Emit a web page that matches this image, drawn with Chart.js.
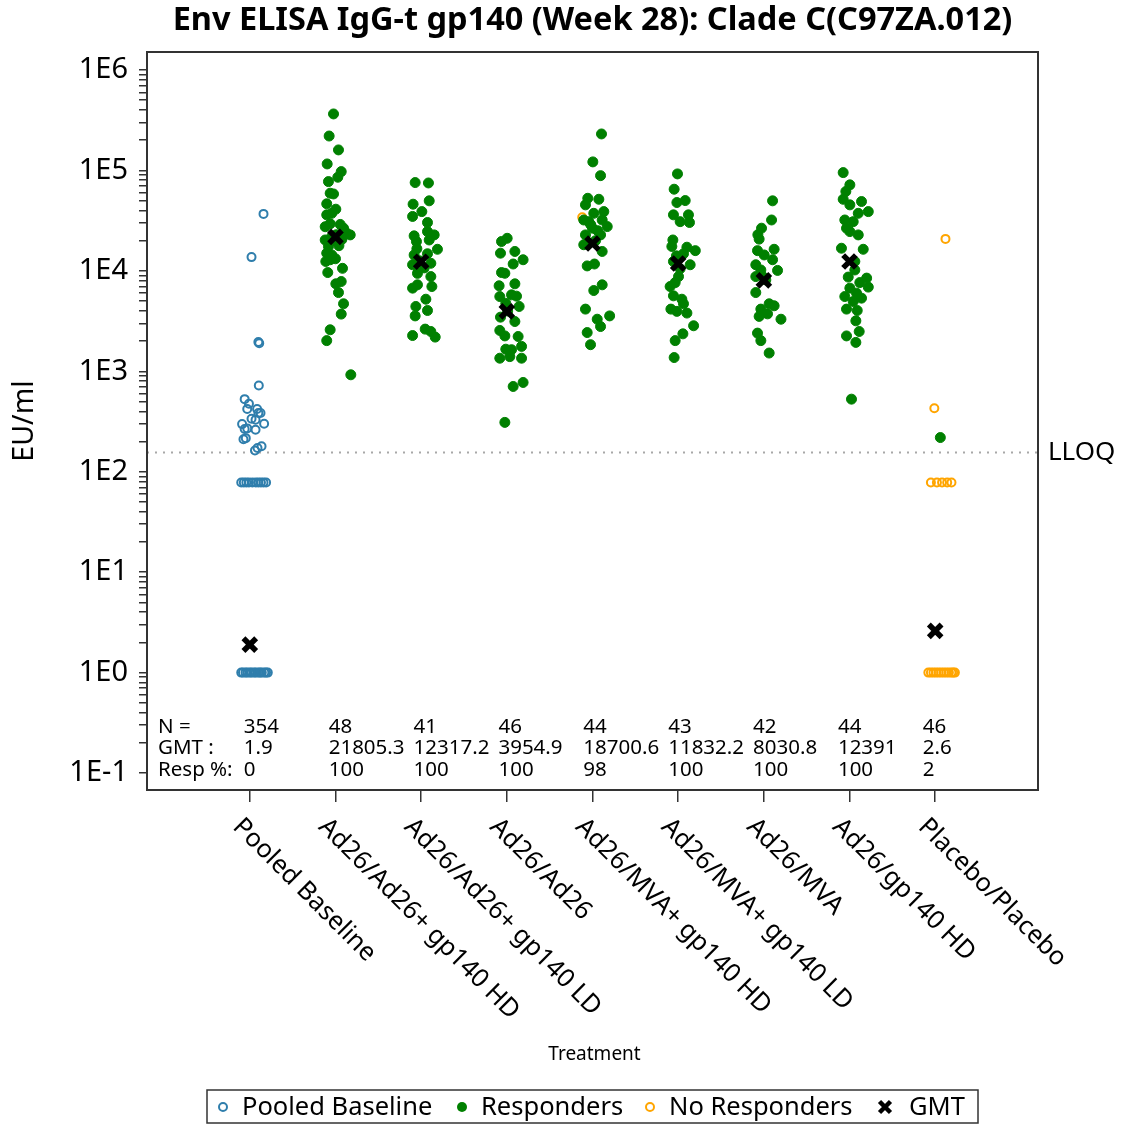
<!DOCTYPE html>
<html>
<head>
<meta charset="utf-8">
<script src="https://cdn.jsdelivr.net/npm/chart.js@4.4.1/dist/chart.umd.min.js"></script>
<style>
  html, body { margin: 0; padding: 0; background: #ffffff; }
  canvas { display: block; }
</style>
</head>
<body>
<canvas id="chart" width="1125" height="1125"></canvas>
<script>
// Treatment groups, in axis order
const groups = [
  'Pooled Baseline', 'Ad26/Ad26+ gp140 HD', 'Ad26/Ad26+ gp140 LD', 'Ad26/Ad26',
  'Ad26/MVA+ gp140 HD', 'Ad26/MVA+ gp140 LD', 'Ad26/MVA', 'Ad26/gp140 HD', 'Placebo/Placebo'
];
const nSubjects   = [354, 48, 41, 46, 44, 43, 42, 44, 46];
const gmtValues   = [1.9, 21805.3, 12317.2, 3954.9, 18700.6, 11832.2, 8030.8, 12391, 2.6];
const respPercent = [0, 100, 100, 100, 98, 100, 100, 100, 2];
const lloqValue   = 158;
const yTickExponents = [-1, 0, 1, 2, 3, 4, 5, 6];
const legendLabels = ['Pooled Baseline', 'Responders', 'No Responders', 'GMT'];

// Pooled baseline (EU/ml) and horizontal jitter (category units)
const baselineValues = [36900, 13700, 1960, 1900, 723, 528, 475, 421, 421, 384, 384, 298, 337, 329, 301, 266, 270, 262, 216, 211, 163, 172, 179,
  78, 78, 78, 78, 78, 78, 78, 78, 78, 78,
  1, 1, 1, 1, 1, 1, 1, 1, 1, 1, 1, 1, 1, 1];
const baselineJitter = [0.16, 0.02, 0.10, 0.11, 0.105, -0.06, -0.01, -0.03, 0.085, 0.10, 0.125, -0.09, 0.02, 0.067, 0.167, -0.06, -0.03, 0.067, -0.047, -0.074, 0.06, 0.09, 0.137,
  -0.10, -0.07, -0.04, -0.01, 0.03, 0.07, 0.10, 0.13, 0.16, 0.19,
  -0.10, -0.08, -0.05, -0.03, 0, 0.02, 0.05, 0.07, 0.10, 0.12, 0.14, 0.17, 0.19, 0.21];

// Responders per group (EU/ml)
const responderValues = [
  [],
  [365000, 220000, 160000, 116000, 97300, 85500, 77400, 59300, 58300, 46500, 41100, 36100, 37400, 29400, 29000, 26600, 22800, 23700, 20300, 22000, 17500, 20500, 15000, 14400, 12400, 12900, 9620, 10600, 7830, 7430, 6080, 4700, 3710, 2590, 2020, 923, 22900, 21900, 19900, 17800, 27500, 13200],
  [75700, 75000, 49800, 46100, 38900, 34800, 30300, 24600, 22800, 22300, 19600, 20300, 16400, 14400, 14800, 11500, 11900, 9440, 8770, 7260, 6730, 6980, 5220, 4420, 4030, 3560, 2630, 2490, 2190, 2270, 12600, 10700, 16600],
  [21100, 19600, 15000, 15600, 12900, 11700, 9620, 9460, 7430, 7100, 5550, 5770, 5600, 4760, 4420, 3460, 3130, 2550, 2250, 2220, 1770, 1660, 1640, 1350, 1350, 1400, 706, 774, 310, 3980],
  [230700, 121600, 88700, 52800, 51600, 45400, 38900, 37400, 32100, 30900, 32100, 27600, 26600, 22800, 22800, 18200, 15600, 11200, 11700, 7260, 6370, 4160, 3560, 3300, 2790, 2430, 1840, 19950, 28800, 25100],
  [92300, 65000, 47900, 50100, 36100, 36100, 30900, 30300, 20300, 17500, 17200, 15900, 14800, 12400, 11500, 8770, 7640, 6980, 5640, 5220, 4700, 4160, 3950, 3800, 2840, 2360, 2020, 1370, 10500, 14100],
  [49800, 32100, 26600, 20700, 16400, 15900, 14400, 12900, 11500, 10100, 10200, 8770, 8130, 6080, 4700, 4490, 4160, 3520, 3730, 3300, 2400, 2020, 1520, 22900, 8900],
  [95100, 71800, 61700, 51600, 49000, 45400, 38900, 37400, 32100, 30900, 26600, 24600, 22800, 16800, 16400, 12400, 10200, 8670, 8470, 7640, 6890, 6730, 6000, 5550, 5350, 4950, 4160, 4030, 3180, 2490, 2250, 1940, 528],
  [219]
];
const responderJitter = [
  [],
  [-0.023, -0.074, 0.035, -0.097, 0.067, 0.027, -0.082, -0.062, -0.023, -0.102, 0.004, -0.102, -0.043, -0.062, 0.055, 0.094, 0.172, 0.132, -0.12, -0.043, -0.082, 0.074, -0.102, -0.043, -0.113, -0.062, -0.09, 0.082, 0.067, 0.004, 0.035, 0.094, 0.067, -0.062, -0.102, 0.179, 0.01, 0.08, -0.04, 0.04, -0.12, 0.0],
  [-0.07, 0.085, 0.094, -0.094, 0.008, -0.10, 0.074, 0.074, 0.152, -0.082, -0.055, 0.094, 0.19, -0.082, 0.074, -0.10, 0.113, -0.043, 0.113, -0.043, -0.10, 0.125, 0.055, -0.062, 0.074, -0.07, 0.047, 0.113, 0.164, -0.10, -0.02, 0.035, -0.05],
  [0.004, -0.062, -0.074, 0.094, 0.19, 0.074, -0.062, -0.023, 0.094, -0.09, -0.082, 0.055, 0.113, -0.012, 0.144, -0.074, 0.094, -0.082, -0.023, 0.132, 0.172, -0.012, 0.055, -0.082, 0.172, 0.035, 0.074, 0.19, -0.023, 0.01],
  [0.105, 0.004, 0.094, -0.055, 0.074, -0.082, 0.132, 0.015, -0.102, -0.043, 0.113, 0.172, 0, -0.082, 0.094, -0.102, 0.113, -0.062, 0.023, 0.113, 0.015, -0.082, 0.20, 0.055, 0.094, -0.062, -0.023, 0.035, -0.02, 0.06],
  [-0.008, -0.047, -0.015, 0.082, -0.055, 0.12, 0.023, 0.132, -0.062, -0.074, 0.102, 0.2, 0.062, -0.055, 0.14, 0.004, -0.035, -0.094, -0.055, 0.043, 0.062, -0.085, -0.015, 0.102, 0.18, 0.055, -0.035, -0.047, 0.023, -0.02],
  [0.102, 0.09, -0.027, -0.055, 0.12, -0.074, 0.004, 0.102, -0.094, 0.16, -0.035, -0.094, 0.023, -0.094, 0.062, 0.12, -0.035, -0.055, 0.043, 0.2, -0.074, -0.035, 0.062, -0.07, -0.02],
  [-0.074, 0.004, -0.043, -0.074, 0.14, 0.004, 0.219, 0.102, -0.055, 0.043, -0.035, 0.004, 0.102, -0.094, 0.16, 0.062, 0.062, -0.015, 0.2, 0.12, 0.219, 0.004, 0.082, -0.055, 0.14, 0.043, -0.035, 0.09, 0.074, 0.113, -0.035, 0.074, 0.023],
  [0.06]
];

// Non-responders per group (EU/ml)
const nonResponderValues = [
  [], [], [], [], [34200], [], [], [],
  [20800, 428, 78, 78, 78, 78, 78, 1, 1, 1, 1, 1, 1, 1, 1, 1, 1, 1, 1]
];
const nonResponderJitter = [
  [], [], [], [], [-0.12], [], [], [],
  [0.12, -0.01, -0.05, 0.02, 0.08, 0.14, 0.19, -0.08, -0.05, -0.02, 0.01, 0.04, 0.07, 0.10, 0.13, 0.16, 0.19, 0.21, 0.23]
];

const BLUE = '#2f7eac', GREEN = '#008000', ORANGE = '#ffa500';
const FONT = '"Noto Sans", "Open Sans", sans-serif';

function toPoints(values, jitter, groupIndex) {
  return values.map((v, k) => ({ x: groupIndex + jitter[k], y: v }));
}
const baselinePoints = toPoints(baselineValues, baselineJitter, 0);
const responderPoints = responderValues.flatMap((vals, i) => toPoints(vals, responderJitter[i], i));
const nonResponderPoints = nonResponderValues.flatMap((vals, i) => toPoints(vals, nonResponderJitter[i], i));
const gmtPoints = gmtValues.map((v, i) => ({ x: i, y: v }));

function isDecade(v) {
  const e = Math.log10(v);
  return Math.abs(e - Math.round(e)) < 1e-9;
}

// Frame, reference line, summary table, rotated category labels, titles and legend
const decorations = {
  id: 'decorations',
  beforeDatasetsDraw(chart) {
    const { ctx, chartArea: a, scales: { y } } = chart;
    const yl = Math.round(y.getPixelForValue(lloqValue)) + 0.5;
    ctx.save();
    ctx.strokeStyle = '#a8a8a8';
    ctx.lineWidth = 2;
    ctx.setLineDash([2, 6]);
    ctx.beginPath();
    ctx.moveTo(a.left, yl);
    ctx.lineTo(a.right, yl);
    ctx.stroke();
    ctx.restore();
  },
  afterDraw(chart) {
    const { ctx, chartArea: a, scales: { x, y } } = chart;
    ctx.save();

    // plot frame
    ctx.strokeStyle = '#333';
    ctx.lineWidth = 2;
    ctx.strokeRect(a.left, a.top, a.right - a.left, a.bottom - a.top);

    // LLOQ label
    ctx.fillStyle = '#000';
    ctx.font = '26px ' + FONT;
    ctx.textAlign = 'left';
    ctx.textBaseline = 'middle';
    ctx.fillText('LLOQ', a.right + 10, y.getPixelForValue(lloqValue) + 1);

    // summary table inside the plot
    ctx.font = '20.5px ' + FONT;
    const rows = [
      ['N =', nSubjects.map(String)],
      ['GMT :', gmtValues.map(String)],
      ['Resp %:', respPercent.map(String)]
    ];
    const rowY = [727, 748.5, 770];
    rows.forEach((row, r) => {
      ctx.fillText(row[0], a.left + 11, rowY[r]);
      row[1].forEach((txt, i) => {
        ctx.fillText(txt, x.getPixelForValue(i) - 6 - 0.8 * i, rowY[r]);
      });
    });

    // rotated category labels
    ctx.font = '25.5px ' + FONT;
    ctx.textBaseline = 'alphabetic';
    groups.forEach((g, i) => {
      ctx.save();
      ctx.translate(x.getPixelForValue(i) - 18, a.bottom + 38);
      ctx.rotate(Math.PI / 4);
      ctx.fillText(g, 0, 0);
      ctx.restore();
    });

    // axis titles
    ctx.textAlign = 'center';
    ctx.textBaseline = 'middle';
    ctx.font = '19px ' + FONT;
    ctx.fillText('Treatment', (a.left + a.right) / 2 + 2, 1055);
    ctx.save();
    ctx.translate(25, 421);
    ctx.rotate(-Math.PI / 2);
    ctx.font = '28.5px ' + FONT;
    ctx.fillText('EU/ml', 0, 0);
    ctx.restore();

    // chart title
    ctx.font = 'bold 32.5px ' + FONT;
    ctx.fillText('Env ELISA IgG-t gp140 (Week 28): Clade C(C97ZA.012)', 592.5, 21);

    // legend
    const ly = 1107;
    ctx.strokeStyle = '#333';
    ctx.lineWidth = 1.5;
    ctx.strokeRect(207, 1090, 771, 33);
    ctx.font = '25.5px ' + FONT;
    ctx.textAlign = 'left';
    const markerX = [223, 462, 650, 885];
    const kinds = ['ring', 'dot', 'ring', 'cross'];
    const colors = [BLUE, GREEN, ORANGE, '#000'];
    legendLabels.forEach((label, k) => {
      const mx = markerX[k];
      if (kinds[k] === 'ring') {
        ctx.strokeStyle = colors[k]; ctx.lineWidth = 2;
        ctx.beginPath(); ctx.arc(mx, ly, 4, 0, Math.PI * 2); ctx.stroke();
      } else if (kinds[k] === 'dot') {
        ctx.fillStyle = colors[k];
        ctx.beginPath(); ctx.arc(mx, ly, 5, 0, Math.PI * 2); ctx.fill();
      } else {
        ctx.strokeStyle = colors[k]; ctx.lineWidth = 4.5;
        ctx.beginPath();
        ctx.moveTo(mx - 5.5, ly - 5.5); ctx.lineTo(mx + 5.5, ly + 5.5);
        ctx.moveTo(mx + 5.5, ly - 5.5); ctx.lineTo(mx - 5.5, ly + 5.5);
        ctx.stroke();
      }
      ctx.fillStyle = '#000';
      ctx.fillText(label, mx + (kinds[k] === 'cross' ? 24 : 19), ly + 1);
    });

    ctx.restore();
  }
};

Chart.defaults.font.family = FONT;

new Chart(document.getElementById('chart'), {
  type: 'scatter',
  data: {
    datasets: [
      {
        label: 'GMT', data: gmtPoints, order: 0,
        pointStyle: 'crossRot', pointRadius: 9, borderWidth: 5.5,
        borderColor: '#000', backgroundColor: '#000'
      },
      {
        label: 'Responders', data: responderPoints, order: 1,
        pointStyle: 'circle', pointRadius: 5, borderWidth: 1,
        borderColor: GREEN, backgroundColor: GREEN
      },
      {
        label: 'No Responders', data: nonResponderPoints, order: 2,
        pointStyle: 'circle', pointRadius: 4, borderWidth: 2,
        borderColor: ORANGE, backgroundColor: 'rgba(0,0,0,0)'
      },
      {
        label: 'Pooled Baseline', data: baselinePoints, order: 3,
        pointStyle: 'circle', pointRadius: 4, borderWidth: 2,
        borderColor: BLUE, backgroundColor: 'rgba(0,0,0,0)'
      }
    ]
  },
  options: {
    responsive: false,
    animation: false,
    devicePixelRatio: 1,
    events: [],
    layout: { padding: { top: 52, right: 87, left: 0, bottom: 0 } },
    plugins: {
      legend: { display: false },
      tooltip: { enabled: false },
      title: { display: false }
    },
    scales: {
      x: {
        type: 'linear', min: -1.2, max: 9.2,
        afterBuildTicks: (s) => { s.ticks = groups.map((_, i) => ({ value: i })); },
        afterFit: (s) => { s.height = 335; },
        ticks: { display: false },
        grid: { drawOnChartArea: false, drawTicks: true, tickLength: 12, color: '#333', lineWidth: 1.5 },
        border: { display: false }
      },
      y: {
        type: 'logarithmic', min: 0.0678, max: 1.51e6,
        afterBuildTicks: (s) => {
          const t = [];
          yTickExponents.forEach((e) => {
            const base = Math.pow(10, e);
            const top = e === yTickExponents[yTickExponents.length - 1] ? 1 : 9;
            for (let m = 1; m <= top; m++) t.push({ value: m * base });
          });
          s.ticks = t;
        },
        afterFit: (s) => { s.width = 147; },
        ticks: {
          autoSkip: false, padding: 11, color: '#000',
          font: { family: FONT, size: 29 },
          callback: (v) => isDecade(v) ? '1E' + Math.round(Math.log10(v)) : ''
        },
        grid: { drawOnChartArea: false, drawTicks: true, tickLength: 8, color: '#333', lineWidth: 1.5 },
        border: { display: false }
      }
    }
  },
  plugins: [decorations]
});
</script>
</body>
</html>
